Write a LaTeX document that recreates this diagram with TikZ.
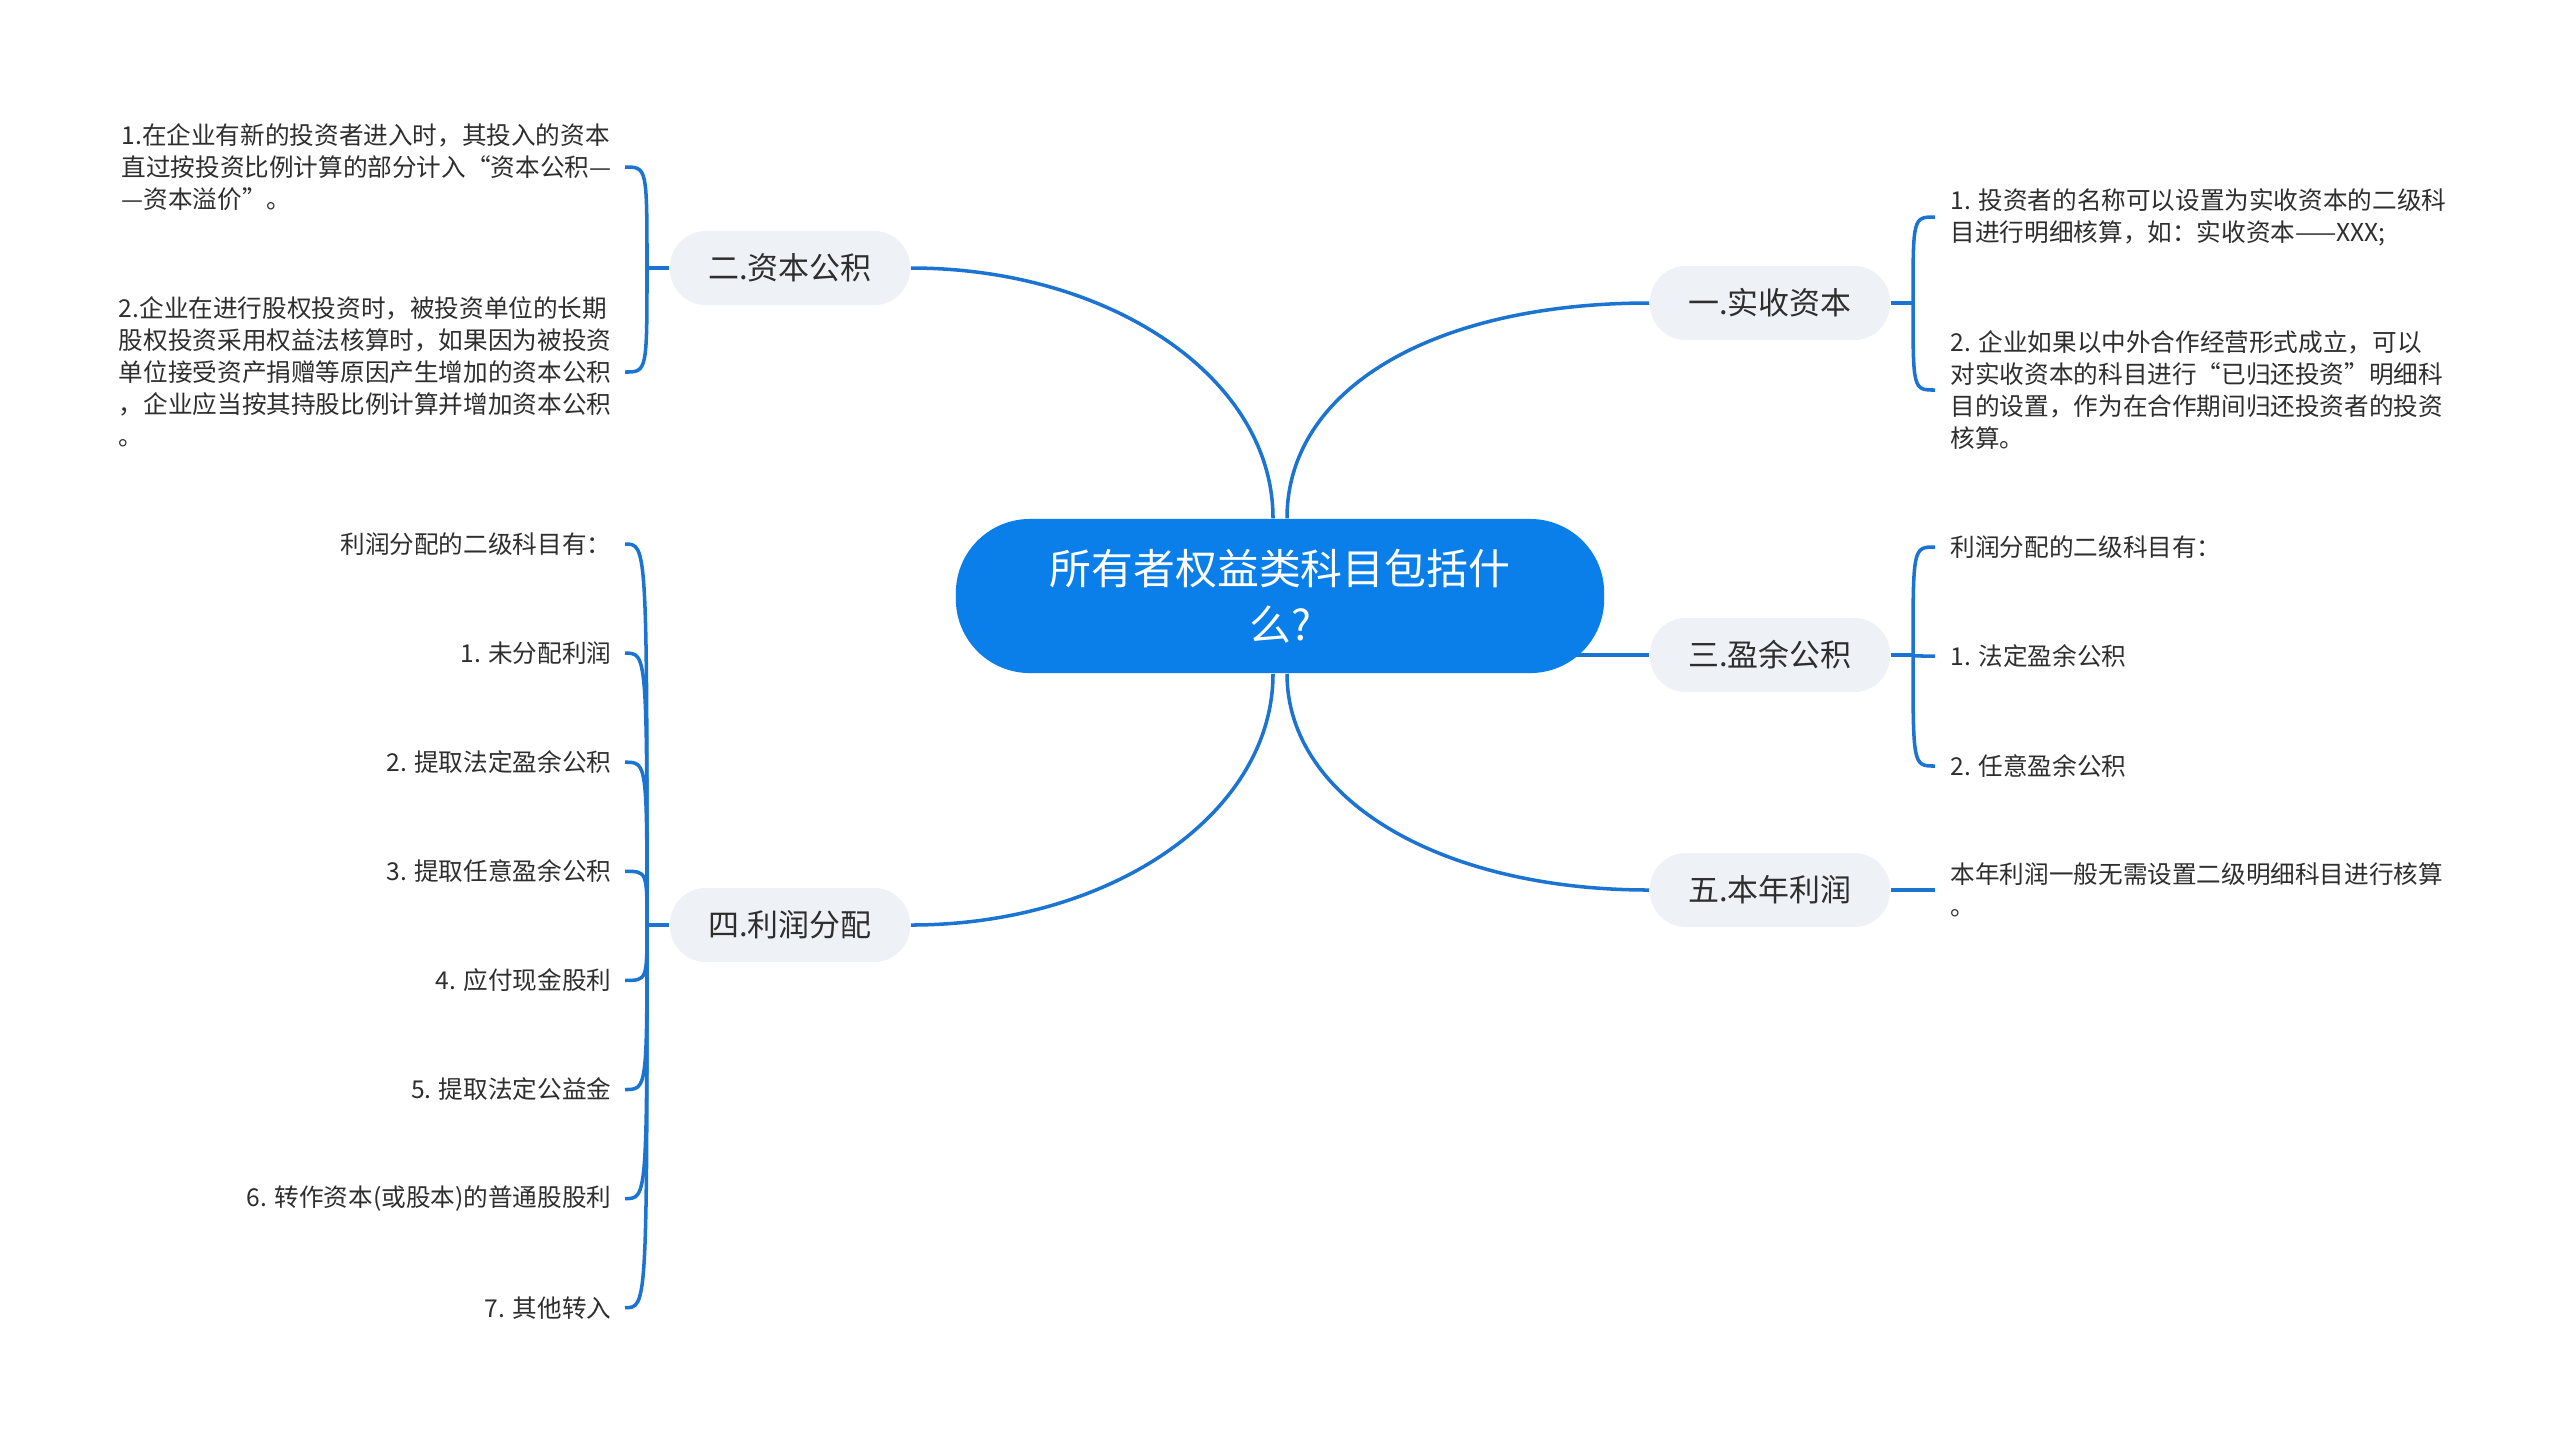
\documentclass[tikz,border=0pt]{standalone}
\usepackage{fontspec}
\setmainfont{Noto Sans CJK SC}
\usepackage{tikz}
\usetikzlibrary{calc, backgrounds}
\definecolor{mapblue}{HTML}{0A7FEA}
\definecolor{mapline}{HTML}{1B74D2}
\definecolor{mapgray}{HTML}{EEF1F5}
\definecolor{maptext}{HTML}{2E2E2E}

\tikzset{
  rootbox/.style={fill=mapblue, text=white, rounded corners=0.74cm, minimum width=6.48cm, minimum height=1.54cm, align=center, font=\fontsize{11.9}{15.9}\selectfont},
  topic/.style={fill=mapgray, text=maptext, rounded corners=0.36cm, minimum width=2.4cm, minimum height=0.74cm, font=\fontsize{8.8}{10}\selectfont},
  leafl/.style={anchor=east, align=left, text=maptext, inner xsep=0.13cm, inner ysep=0pt, font=\fontsize{7}{9.1}\selectfont},
  leafr/.style={leafl, anchor=west, inner xsep=0.15cm},
  link/.style={draw=mapline, line width=1pt},
}

\begin{document}
\begin{tikzpicture}[x=0.01cm, y=-0.01cm]
  \useasboundingbox (0,0) rectangle (2560,1441);

  % centre
  \node[rootbox] (root) at (1280,596) {所有者权益类科目包括什\\么?};

  % main topics
  \node[topic] (t1) at (1770,303) {一.实收资本};
  \node[topic] (t2) at (790,268) {二.资本公积};
  \node[topic] (t3) at (1770,655) {三.盈余公积};
  \node[topic] (t4) at (790,925) {四.利润分配};
  \node[topic] (t5) at (1770,890) {五.本年利润};

  % bracket joints
  \coordinate (j1) at (1913,303);
  \coordinate (j2) at (647,268);
  \coordinate (j3) at (1913,655);
  \coordinate (j4) at (647,925);

  % leaves right
  \node[leafr] (l11) at (1935,217) {1. 投资者的名称可以设置为实收资本的二级科\\目进行明细核算，如：实收资本——XXX;};
  \node[leafr] (l12) at (1935,390) {2. 企业如果以中外合作经营形式成立，可以\\对实收资本的科目进行“已归还投资”明细科\\目的设置，作为在合作期间归还投资者的投资\\核算。};
  \node[leafr] (l31) at (1935,547) {利润分配的二级科目有：};
  \node[leafr] (l32) at (1935,656) {1. 法定盈余公积};
  \node[leafr] (l33) at (1935,766) {2. 任意盈余公积};
  \node[leafr] (l51) at (1935,890) {本年利润一般无需设置二级明细科目进行核算\\。};

  % leaves left
  \node[leafl] (l21) at (625,167) {1.在企业有新的投资者进入时，其投入的资本\\直过按投资比例计算的部分计入“资本公积—\\—资本溢价”。};
  \node[leafl] (l22) at (625,372) {2.企业在进行股权投资时，被投资单位的长期\\股权投资采用权益法核算时，如果因为被投资\\单位接受资产捐赠等原因产生增加的资本公积\\，企业应当按其持股比例计算并增加资本公积\\。};
  \foreach \t [count=\i from 0] in {利润分配的二级科目有：, 1. 未分配利润, 2. 提取法定盈余公积, 3. 提取任意盈余公积, 4. 应付现金股利, 5. 提取法定公益金, 6. 转作资本(或股本)的普通股股利, 7. 其他转入} {
    \node[leafl] (l4\i) at (625,{544+109.1*\i}) {\t};
  }

  \begin{pgfonlayer}{background}
    \fill[white] (0,0) rectangle (2560,1441);
    % root to topics
    \draw[link] ($(root.north)+(7,0)$) .. controls ($(root.north)+(7,-130)$) and ($(t1.west)+(-215,0)$) .. (t1.west);
    \draw[link] ($(root.north)+(-7,0)$) .. controls ($(root.north)+(-7,-140)$) and ($(t2.east)+(200,0)$) .. (t2.east);
    \draw[link] (root.center |- t3.west) -- (t3.west);
    \draw[link] ($(root.south)+(-7,0)$) .. controls ($(root.south)+(-7,140)$) and ($(t4.east)+(200,0)$) .. (t4.east);
    \draw[link] ($(root.south)+(7,0)$) .. controls ($(root.south)+(7,125)$) and ($(t5.west)+(-210,0)$) .. (t5.west);
    % topics to leaves
    \draw[link] (t1.east) -- (j1);
    \draw[link] (t2.west) -- (j2);
    \draw[link] (t3.east) -- (j3);
    \draw[link] (t4.west) -- (j4);
    \draw[link] (t5.east) -- (l51.west);
    \foreach \l in {l11,l12} \draw[link] (j1) .. controls (j1 |- \l.west) .. (\l.west);
    \foreach \l in {l31,l32,l33} \draw[link] (j3) .. controls (j3 |- \l.west) .. (\l.west);
    \foreach \l in {l21,l22} \draw[link] (j2) .. controls (j2 |- \l.east) .. (\l.east);
    \foreach \i in {0,...,7} \draw[link] (j4) .. controls (j4 |- l4\i.east) .. (l4\i.east);
  \end{pgfonlayer}
\end{tikzpicture}
\end{document}
